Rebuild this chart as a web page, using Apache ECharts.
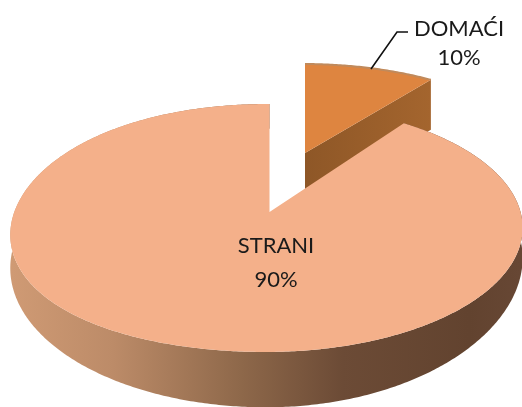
<!DOCTYPE html>
<html><head><meta charset="utf-8">
<style>html,body{margin:0;padding:0;background:#fff}#c{width:522px;height:407px}</style>
<script src="https://cdn.jsdelivr.net/npm/echarts@6/dist/echarts.min.js"></script>
</head><body><div id="c"></div>
<script>
const categories = ['DOMAĆI', 'STRANI'];
const values = [10, 90];
const percentLabels = ['10%', '90%'];

// Perspective projection of each slice's disc (layout only).
const discs = [
  {cx: 305, cy: 153, R: 238, Rt: 100.5, k: 0.129, j: -0.0118, bottomDy: 50, bottomRt: 100.5,
   leftSag: 0, rightLift: 0, top: '#DE8540', rim: '#C08A5C'},
  {cx: 269.5, cy: 212, R: 254, Rt: 121.9, k: 0.129, j: -0.0118, bottomDy: 38, bottomRt: 137,
   leftSag: 12, rightLift: 10, top: '#F4B08A', rim: null}
];
const labelPos = [[459, 29, 58], [276, 246, 280]];
const leader = [[371, 69], [397, 32], [408, 32]];
const total = values.reduce((a, b) => a + b, 0);

function project(d, theta, rt, dy, isBottom) {
  const u = Math.sin(theta), v = -Math.cos(theta);
  const w = 1 - d.k * v - d.j * u;
  let y = d.cy + dy + rt * v / w;
  if (!isBottom && u < 0) y += d.leftSag * u * u * (1 + v) / 2;
  if (isBottom && u > 0) y -= d.rightLift * u * u;
  return [d.cx + d.R * u / w, y];
}
function arc(d, a0, a1, rt, dy, isBottom) {
  const n = Math.max(2, Math.ceil((a1 - a0) / 0.01)), pts = [];
  for (let i = 0; i <= n; i++) pts.push(project(d, a0 + (a1 - a0) * i / n, rt, dy, isBottom));
  return pts;
}
const wallGrad = {type: 'linear', x: 12, y: 0, x2: 520, y2: 0, global: true, colorStops: [
  {offset: 0, color: '#CF9A74'}, {offset: 0.2, color: '#BC8B68'}, {offset: 0.45, color: '#8E684A'},
  {offset: 0.65, color: '#6C4B36'}, {offset: 0.9, color: '#62432F'}, {offset: 1, color: '#674734'}]};
const cutGrad = {type: 'linear', x: 305, y: 0, x2: 431, y2: 0, global: true, colorStops: [
  {offset: 0, color: '#8E5727'}, {offset: 1, color: '#A4652E'}]};

function renderItem(params, api) {
  const i = params.dataIndex, d = discs[i];
  let before = 0;
  for (let n = 0; n < i; n++) before += values[n];
  const a0 = before / total * 2 * Math.PI;
  const a1 = (before + api.value(0)) / total * 2 * Math.PI;
  const topRim = arc(d, a0, a1, d.Rt, 0, false);
  const bottomRim = arc(d, a0, a1, d.bottomRt, d.bottomDy, true);
  const children = [];
  if (i === 0) {
    const p1 = project(d, a1, d.Rt, 0, false), p1b = project(d, a1, d.bottomRt, d.bottomDy, true);
    children.push({type: 'polygon', shape: {points: [[d.cx, d.cy], p1, p1b, [d.cx, d.cy + d.bottomDy]]},
      style: {fill: cutGrad}});
  } else {
    children.push({type: 'polygon', shape: {points: topRim.concat(bottomRim.slice().reverse())},
      style: {fill: wallGrad}});
  }
  children.push({type: 'polygon', shape: {points: [[d.cx, d.cy]].concat(topRim)}, style: {fill: d.top}});
  if (d.rim) children.push({type: 'polyline', shape: {points: topRim},
    style: {fill: 'none', stroke: d.rim, lineWidth: 2}});
  if (i === 0) children.push({type: 'polyline', shape: {points: leader},
    style: {fill: 'none', stroke: '#111', lineWidth: 1.6}});
  const lp = labelPos[i];
  [[categories[i], lp[1]], [percentLabels[i], lp[2]]].forEach(t => children.push({
    type: 'text', z2: 10,
    style: {text: t[0], x: lp[0], y: t[1], align: 'center', verticalAlign: 'middle',
      font: '400 22px Lato', fill: '#1a1a1a'}}));
  return {type: 'group', children};
}

const chart = echarts.init(document.getElementById('c'), null, {renderer: 'canvas'});
chart.setOption({
  animation: false,
  series: [{type: 'custom', coordinateSystem: 'none', renderItem,
    data: values.map((v, i) => ({name: categories[i], value: [v]}))}]
});
</script></body></html>
